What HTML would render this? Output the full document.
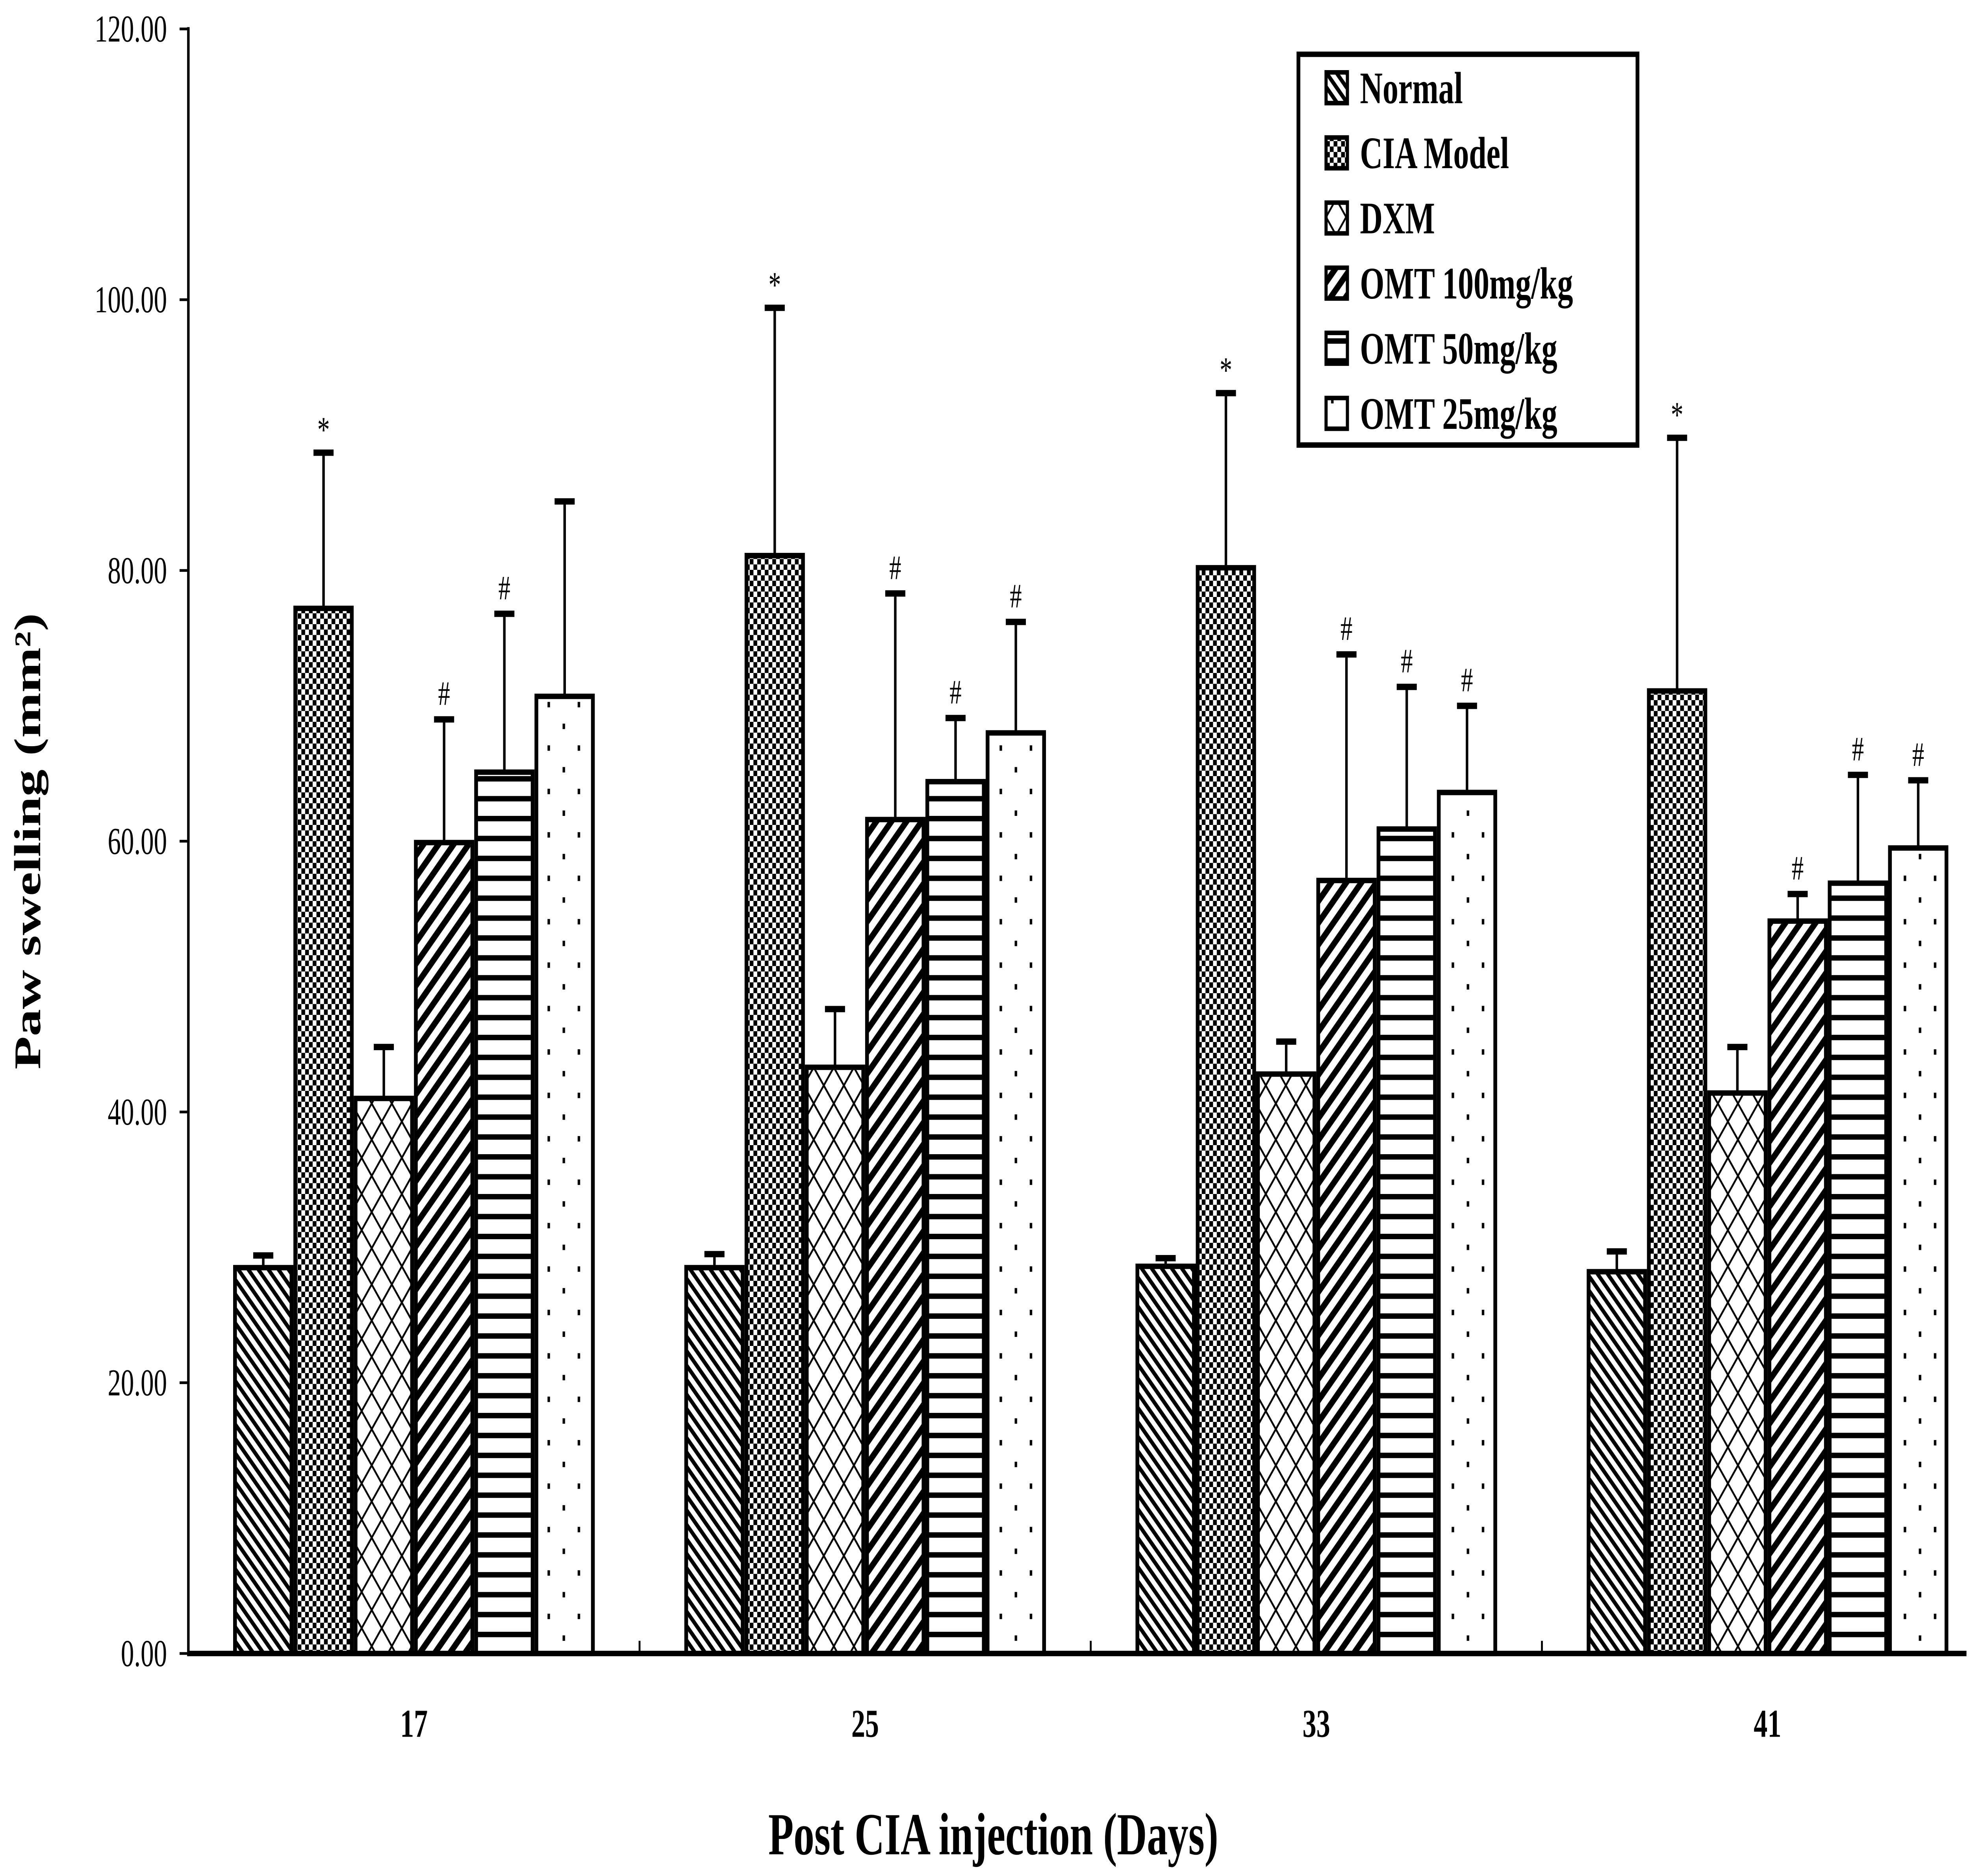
<!DOCTYPE html>
<html><head><meta charset="utf-8"><style>
html,body{margin:0;padding:0;background:#fff;overflow:hidden;}
svg{display:block;position:absolute;left:0;top:0;width:100vw;height:100vh;}
text{font-family:"Liberation Serif",serif;fill:#000;}
</style></head><body>
<svg id="chart" viewBox="0 0 1568 1037" preserveAspectRatio="none" overflow="hidden" xmlns="http://www.w3.org/2000/svg">
<defs>
<pattern id="p0" patternUnits="userSpaceOnUse" width="8" height="8"><rect width="8" height="8" fill="#fff"/><path d="M-2,-2 L10,10 M-2,6 L2,10 M6,-2 L10,2" stroke="#000" stroke-width="2.6"/></pattern>
<pattern id="p1" patternUnits="userSpaceOnUse" width="6" height="6"><rect width="6" height="6" fill="#fff"/><rect x="0" y="0" width="3" height="3" fill="#000"/><rect x="3" y="3" width="3" height="3" fill="#000"/></pattern>
<pattern id="p2" patternUnits="userSpaceOnUse" width="16" height="20"><rect width="16" height="20" fill="#fff"/><path d="M0,0 L16,20 M16,0 L0,20" stroke="#000" stroke-width="1.3"/></pattern>
<pattern id="p3" patternUnits="userSpaceOnUse" width="12" height="12"><rect width="12" height="12" fill="#fff"/><path d="M-3,15 L15,-3 M-3,3 L3,-3 M9,15 L15,9" stroke="#000" stroke-width="4"/></pattern>
<pattern id="p4" patternUnits="userSpaceOnUse" width="10" height="11"><rect width="10" height="11" fill="#fff"/><rect x="0" y="0" width="10" height="3" fill="#000"/></pattern>
<pattern id="p5" patternUnits="userSpaceOnUse" width="24" height="24"><rect width="24" height="24" fill="#fff"/><rect x="4" y="4" width="2" height="3" fill="#000"/><rect x="16" y="16" width="2" height="3" fill="#000"/></pattern>
</defs>
<g id="plot"></g>
</svg>
<script>
const categories = ["17","25","33","41"];
const seriesNames = ["Normal","CIA Model","DXM","OMT 100mg/kg","OMT 50mg/kg","OMT 25mg/kg"];
const normalVals = [28.5,28.5,28.6,28.2];
const normalErr = [29.4,29.5,29.2,29.7];
const ciaVals = [77.2,81.1,80.2,71.1];
const ciaErr = [88.7,99.4,93.1,89.8];
const dxmVals = [41.0,43.3,42.8,41.4];
const dxmErr = [44.8,47.6,45.2,44.8];
const omt100Vals = [59.9,61.6,57.1,54.1];
const omt100Err = [69.0,78.3,73.8,56.1];
const omt50Vals = [65.1,64.4,60.9,56.9];
const omt50Err = [76.8,69.1,71.4,64.9];
const omt25Vals = [70.7,68.0,63.6,59.5];
const omt25Err = [85.1,76.2,70.0,64.5];
const marks = [["","*","","#","#",""],["","*","","#","#","#"],["","*","","#","#","#"],["","*","","#","#","#"]];
const yTicks = ["0.00","20.00","40.00","60.00","80.00","100.00","120.00"];

const vals=[normalVals,ciaVals,dxmVals,omt100Vals,omt50Vals,omt25Vals];
const errs=[normalErr,ciaErr,dxmErr,omt100Err,omt50Err,omt25Err];
const NS="http://www.w3.org/2000/svg";
const g=document.getElementById('plot');
const x0=150,y0=914,yTop=16,yMax=120,band=359.3,bw=48;
function yS(v){return y0-(v/yMax)*(y0-yTop);}
function xC(i){return x0+band*(i+0.5);}
function mk(tag,attrs,parent){const e=document.createElementNS(NS,tag);for(const k in attrs)e.setAttribute(k,attrs[k]);(parent||g).appendChild(e);return e;}

categories.forEach((c,i)=>{
  vals.forEach((arr,s)=>{
    const bx=xC(i)-144+s*bw, by=yS(arr[i]);
    const ex=bx+bw/2, ey=yS(errs[s][i]);
    const ln=mk('line',{x1:ex,y1:by,x2:ex,y2:ey,stroke:'#000','stroke-width':2});
    
    
    const cap=mk('line',{x1:ex-8,y1:ey,x2:ex+8,y2:ey,stroke:'#000','stroke-width':3.5});
    
    
    const r=mk('rect',{x:bx+1.5,y:by,width:bw-3,height:y0-by,fill:'url(#p'+s+')',stroke:'#000','stroke-width':3});
    
    
    if(marks[i][s]){
      const t=mk('text',{x:ex,y:ey-(marks[i][s]==='*'?6:8),'text-anchor':'middle','font-size':marks[i][s]==='*'?20:19});
      t.textContent=marks[i][s];
      
      
    }
  });
  const tl=mk('text',{x:xC(i),y:960,'text-anchor':'middle','font-size':22,'font-weight':'bold'});
  tl.textContent=c;
  
  
  if(i>0){const tk=mk('line',{x1:x0+band*i,y1:y0,x2:x0+band*i,y2:y0-7,stroke:'#000','stroke-width':1.5});
    
    }
});
const ya=mk('line',{x1:x0,y1:yTop-1,x2:x0,y2:y0+1.5,stroke:'#000','stroke-width':2});


const xa=mk('line',{x1:x0,y1:y0,x2:1566,y2:y0,stroke:'#000','stroke-width':3});


yTicks.forEach((lab,k)=>{
  const v=k*20,yy=yS(v);
  const tk=mk('line',{x1:x0-7,y1:yy,x2:x0,y2:yy,stroke:'#000','stroke-width':1.5});
  
  
  const t=mk('text',{x:133,y:yy+7,'text-anchor':'end','font-size':21});
  t.textContent=lab;
  
  
});
const yt=mk('text',{x:0,y:0,'text-anchor':'middle','font-size':30,'font-weight':'bold',transform:'translate(32,465) rotate(-90)'});
yt.textContent='Paw swelling (mm²)';


const xt=mk('text',{x:791,y:1025,'text-anchor':'middle','font-size':33,'font-weight':'bold'});
xt.textContent='Post CIA injection (Days)';


const lg=mk('g',{});


const lb=mk('rect',{x:1034,y:30,width:270,height:216,fill:'#fff',stroke:'#000','stroke-width':3},lg);


seriesNames.forEach((n,s)=>{
  const yy=48+s*36;
  const sw=mk('rect',{x:1056,y:yy-8,width:17,height:17,fill:'url(#p'+s+')',stroke:'#000','stroke-width':2.5},lg);
  
  
  const t=mk('text',{x:1083,y:yy+9,'font-size':25,'font-weight':'bold'},lg);
  t.textContent=n;
  
  
});
</script>
</body></html>
